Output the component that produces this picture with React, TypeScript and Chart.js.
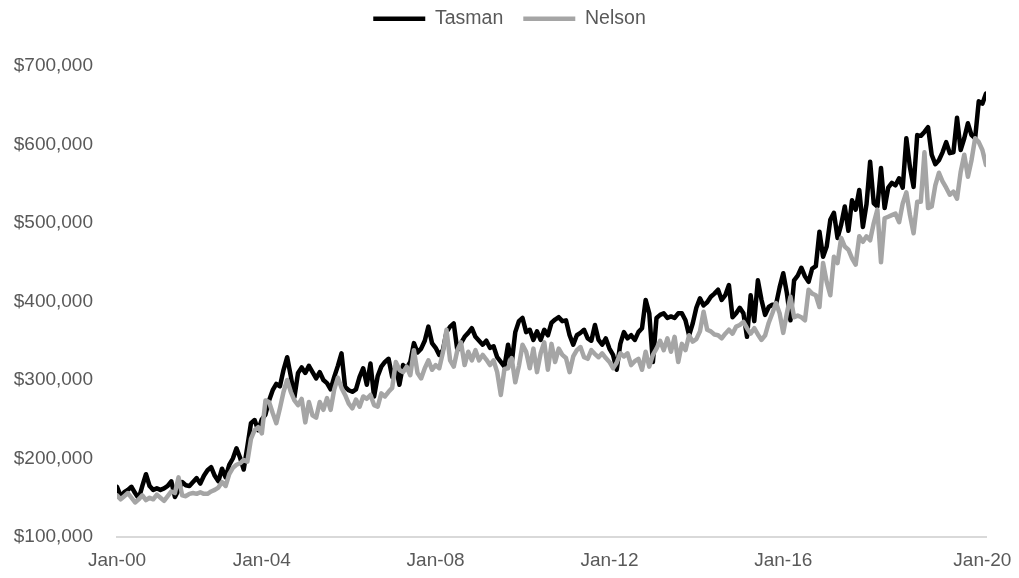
import React, { useEffect, useRef } from "react";
import { Chart, registerables } from "chart.js";

Chart.register(...registerables);

// Monthly median values in thousands of dollars, Jan-00 .. Jan-20 (241 months)
const seriesNames = ["Tasman", "Nelson"];

const tasman = [
  164, 152, 157, 160, 164, 156, 149, 165, 180, 165, 160, 162,
  160, 162, 165, 171, 151, 160, 170, 166, 165, 170, 175, 168,
  178, 185, 189, 178, 171, 187, 176, 192, 200, 213, 201, 186,
  215, 245, 249, 236, 250, 256, 274, 287, 295, 292, 313, 329,
  305, 278, 309, 316, 309, 318, 310, 302, 310, 300, 296, 288,
  304, 318, 334, 291, 287, 285, 288, 304, 315, 294, 321, 279,
  305, 317, 323, 327, 304, 317, 294, 319, 315, 323, 347, 335,
  340, 350, 368, 347, 341, 332, 338, 361, 368, 372, 338, 347,
  355, 360, 366, 355, 350, 345, 350, 341, 343, 329, 323, 317,
  345, 321, 361, 375, 379, 361, 364, 351, 362, 351, 364, 357,
  373, 377, 380, 375, 376, 357, 345, 357, 360, 364, 353, 350,
  370, 351, 345, 353, 340, 332, 313, 346, 361, 353, 357, 351,
  361, 366, 402, 385, 323, 379, 383, 385, 379, 381, 379, 385,
  385, 376, 357, 372, 392, 404, 395, 399, 406, 410, 415, 402,
  408, 421, 380, 385, 392, 385, 355, 408, 375, 427, 402, 383,
  393, 396, 396, 418, 436, 411, 376, 427, 433, 443, 432, 425,
  442, 445, 489, 457, 470, 504, 513, 481, 498, 521, 490, 529,
  517, 542, 495, 524, 578, 525, 521, 570, 519, 545, 551, 548,
  557, 545, 608, 571, 546, 612, 611, 616, 622, 587, 575, 580,
  590, 603, 589, 590, 634, 593, 608, 627, 612, 608, 655, 652,
  665,
];

const nelson = [
  153, 148, 152, 156, 150, 144, 148, 153, 147, 150, 148, 154,
  150, 146, 152, 158, 156, 176, 153, 152, 155, 156, 155, 157,
  155, 155, 158, 160, 163, 170, 165, 180, 188, 192, 194, 198,
  196, 225, 236, 240, 232, 274, 272, 258, 245, 264, 285, 300,
  285, 274, 268, 276, 246, 272, 255, 252, 272, 262, 277, 262,
  288, 303, 290, 281, 270, 264, 275, 266, 279, 276, 281, 268,
  266, 283, 279, 285, 290, 323, 313, 310, 317, 306, 338, 309,
  302, 315, 325, 313, 319, 315, 335, 364, 325, 317, 338, 348,
  319, 336, 325, 338, 325, 332, 326, 319, 325, 310, 281, 314,
  315, 328, 297, 318, 345, 336, 315, 340, 310, 334, 348, 313,
  346, 323, 340, 332, 328, 310, 330, 338, 342, 329, 327, 338,
  333, 329, 334, 328, 323, 315, 322, 334, 330, 334, 319, 324,
  327, 313, 336, 317, 332, 340, 350, 338, 353, 336, 355, 323,
  346, 338, 357, 349, 352, 362, 387, 364, 362, 358, 357, 353,
  359, 364, 359, 368, 370, 374, 366, 359, 366, 358, 351, 357,
  373, 385, 398, 385, 360, 385, 406, 380, 382, 380, 376, 415,
  410, 408, 393, 449, 425, 408, 457, 449, 481, 470, 466, 455,
  447, 483, 476, 483, 478, 500, 517, 450, 506, 508, 510, 512,
  501, 525, 539, 510, 487, 527, 527, 590, 519, 521, 548, 564,
  553, 545, 536, 540, 531, 565, 587, 559, 580, 608, 603, 593,
  574,
];

const xTickPositions = [0, 40, 88, 136, 184, 239];
const xTickLabels = ["Jan-00", "Jan-04", "Jan-08", "Jan-12", "Jan-16", "Jan-20"];
const yTickValues = [100, 200, 300, 400, 500, 600, 700];

const seriesColors = ["#000000", "#a5a5a5"];
const FONT = "'Liberation Sans', Arial, sans-serif";
const TEXT = "#595959";

export default function App() {
  const ref = useRef<HTMLCanvasElement | null>(null);

  useEffect(() => {
    if (!ref.current) return;

    const legendSpacer = {
      id: "legendSpacer",
      beforeLayout(chart: any) {
        const lg = chart.legend;
        if (lg && !lg.__patched) {
          const orig = lg.fit.bind(lg);
          lg.fit = function () {
            orig();
            this.height = 77;
          };
          lg.__patched = true;
        }
      },
      afterLayout(chart: any) {
        const lg = chart.legend;
        if (lg) {
          lg.left = 0;
          lg.right = chart.width;
          lg.width = chart.width;
        }
      },
    };

    const toPoints = (arr: number[]) => arr.map((v, i) => ({ x: i, y: v }));

    const chart = new Chart(ref.current, {
      type: "line",
      data: {
        datasets: [
          {
            label: seriesNames[0],
            data: toPoints(tasman),
            borderColor: seriesColors[0],
            backgroundColor: seriesColors[0],
            borderWidth: 4.5,
            pointRadius: 0,
            tension: 0,
            borderJoinStyle: "round",
            borderCapStyle: "round",
            order: 2,
          },
          {
            label: seriesNames[1],
            data: toPoints(nelson),
            borderColor: seriesColors[1],
            backgroundColor: seriesColors[1],
            borderWidth: 4.5,
            pointRadius: 0,
            tension: 0,
            borderJoinStyle: "round",
            borderCapStyle: "round",
            order: 1,
          },
        ],
      },
      options: {
        responsive: false,
        animation: false,
        events: [],
        layout: { padding: { top: -11, right: 33, left: 0, bottom: 0 } },
        plugins: {
          tooltip: { enabled: false },
          legend: {
            display: true,
            position: "top",
            labels: {
              usePointStyle: true,
              pointStyle: "line",
              pointStyleWidth: 52,
              padding: 20,
              color: TEXT,
              font: { family: FONT, size: 19.5 },
              sort: (a: any, b: any) => a.datasetIndex - b.datasetIndex,
            },
          },
        },
        scales: {
          x: {
            type: "linear",
            min: 0,
            max: tasman.length - 1,
            grid: { display: false, drawTicks: false },
            border: { display: true, color: "#d9d9d9", width: 2 },
            afterBuildTicks: (axis: any) => {
              axis.ticks = xTickPositions.map((v) => ({ value: v }));
            },
            afterFit: (axis: any) => {
              axis.height = 41;
              axis.paddingLeft = 0;
              axis.paddingRight = 0;
            },
            ticks: {
              autoSkip: false,
              maxRotation: 0,
              minRotation: 0,
              padding: 12,
              color: TEXT,
              font: { family: FONT, size: 19 },
              callback: (value: any) => {
                const idx = xTickPositions.indexOf(Number(value));
                return idx >= 0 ? xTickLabels[idx] : "";
              },
            },
          },
          y: {
            type: "linear",
            min: yTickValues[0],
            max: yTickValues[yTickValues.length - 1],
            grid: { display: false, drawTicks: false },
            border: { display: false },
            afterBuildTicks: (axis: any) => {
              axis.ticks = yTickValues.map((v) => ({ value: v }));
            },
            afterFit: (axis: any) => {
              axis.width = 117;
            },
            ticks: {
              padding: 24,
              color: TEXT,
              font: { family: FONT, size: 19 },
              callback: (value: any) => "$" + value + ",000",
            },
          },
        },
      },
      plugins: [legendSpacer],
    } as any);

    return () => chart.destroy();
  }, []);

  return (
    <div
      style={{
        position: "absolute",
        left: 0,
        top: 0,
        width: 1019,
        height: 578,
        background: "#ffffff",
      }}
    >
      <canvas ref={ref} width={1019} height={578} style={{ display: "block" }} />
    </div>
  );
}
